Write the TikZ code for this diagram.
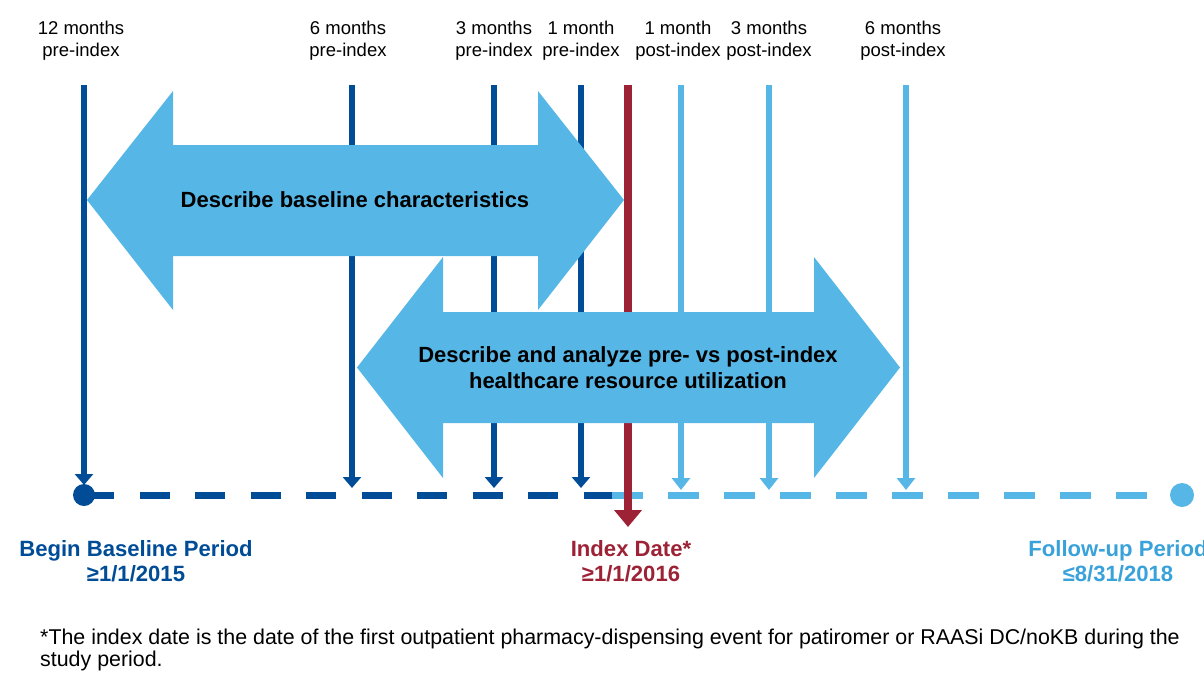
\documentclass[tikz,border=0pt]{standalone}
\usepackage{fontspec}
\setmainfont{Liberation Sans}
\usetikzlibrary{arrows.meta}

\definecolor{baseblue}{HTML}{004C97}
\definecolor{indexred}{HTML}{9D2235}
\definecolor{followblue}{HTML}{56B7E6}
\definecolor{followtext}{HTML}{3AA2DA}

\begin{document}
\begin{tikzpicture}[
  x=1pt, y=-1pt,
  ticklabel/.style={align=center, inner sep=0pt, anchor=north,
                    font=\fontsize{18.5}{21.5}\selectfont},
  period/.style={align=center, inner sep=0pt, anchor=north,
                 font=\fontsize{22.1}{25}\selectfont\bfseries},
  spantext/.style={align=center, inner sep=0pt,
                   font=\fontsize{22}{26}\selectfont\bfseries},
  dot/.style={circle, inner sep=0pt, minimum size=#1},
  prearr/.style={draw=baseblue, line width=6pt, -{Triangle[width=18pt,length=11pt]}},
  postarr/.style={draw=followblue, line width=6pt, -{Triangle[width=18pt,length=12pt]}},
  idxarr/.style={draw=indexred, line width=8pt, -{Triangle[width=27pt,length=17pt]}},
  spanarrow/.style={fill=followblue},
]
\useasboundingbox (0,0) rectangle (1204,675);
% Top labels
\node[ticklabel] (m12pre)  at (81,21)  {12 months\\pre-index};
\node[ticklabel] (m6pre)   at (348,21) {6 months\\pre-index};
\node[ticklabel] (m3pre)   at (494,21) {3 months\\pre-index};
\node[ticklabel] (m1pre)   at (581,21) {1 month\\pre-index};
\node[ticklabel] (m1post)  at (678,21) {1 month\\post-index};
\node[ticklabel] (m3post)  at (769,21) {3 months\\post-index};
\node[ticklabel] (m6post)  at (903,21) {6 months\\post-index};
% Timeline
\coordinate (tbegin) at (84,495);
\coordinate (tindex) at (612,495);
\coordinate (tend)   at (1182,495);
\draw[baseblue, line width=7pt, dash pattern=on 30pt off 25.5pt] (tbegin) -- (tindex);
\draw[followblue, line width=7pt, dash pattern=on 31pt off 25pt] (tindex) -- (tend);
\node[dot=22pt, fill=baseblue]   (dbegin) at (tbegin) {};
\node[dot=24pt, fill=followblue] (dend)   at (tend) {};
% Vertical markers
\coordinate (s12pre) at (84,85);   \coordinate (e12pre) at (84,485);
\coordinate (s6pre)  at (352,85);  \coordinate (e6pre)  at (352,488);
\coordinate (s3pre)  at (494,85);  \coordinate (e3pre)  at (494,488);
\coordinate (s1pre)  at (581,85);  \coordinate (e1pre)  at (581,488);
\coordinate (sindex) at (628,85);  \coordinate (eindex) at (628,527);
\coordinate (s1post) at (681,85);  \coordinate (e1post) at (681,490);
\coordinate (s3post) at (769,85);  \coordinate (e3post) at (769,490);
\coordinate (s6post) at (906,85);  \coordinate (e6post) at (906,490);
\draw[prearr]  (s12pre) -- (e12pre);
\draw[prearr]  (s6pre)  -- (e6pre);
\draw[prearr]  (s3pre)  -- (e3pre);
\draw[prearr]  (s1pre)  -- (e1pre);
\draw[postarr] (s1post) -- (e1post);
\draw[postarr] (s3post) -- (e3post);
\draw[postarr] (s6post) -- (e6post);
\draw[idxarr]  (sindex) -- (eindex);
% Block arrows
\fill[spanarrow] (87,200) -- (173,91) -- (173,145) -- (538,145) -- (538,91)
  -- (624,200) -- (538,310) -- (538,256) -- (173,256) -- (173,310) -- cycle;
\node[spantext] (baseline) at (355,200) {Describe baseline characteristics};
\fill[spanarrow] (357,367.5) -- (443,257) -- (443,312) -- (814,312) -- (814,257)
  -- (900,367.5) -- (814,478) -- (814,423) -- (443,423) -- (443,478) -- cycle;
\node[spantext, anchor=north] (hcru) at (628,346)
  {Describe and analyze pre- vs post-index\\healthcare resource utilization};
% Bottom labels
\node[period, text=baseblue]   (lbegin)  at (136,540)  {Begin Baseline Period\\≥1/1/2015};
\node[period, text=indexred]   (lindex)  at (631,540)  {Index Date*\\≥1/1/2016};
\node[period, text=followtext] (lfollow) at (1118,540) {Follow-up Period\\≤8/31/2018};
% Footnote
\node[anchor=north west, align=left, inner sep=0pt,
      font=\fontsize{21.4}{22}\selectfont] (note) at (40,629)
  {*The index date is the date of the first outpatient pharmacy-dispensing event for patiromer or RAASi DC/noKB during the\\study period.};
\end{tikzpicture}
\end{document}
